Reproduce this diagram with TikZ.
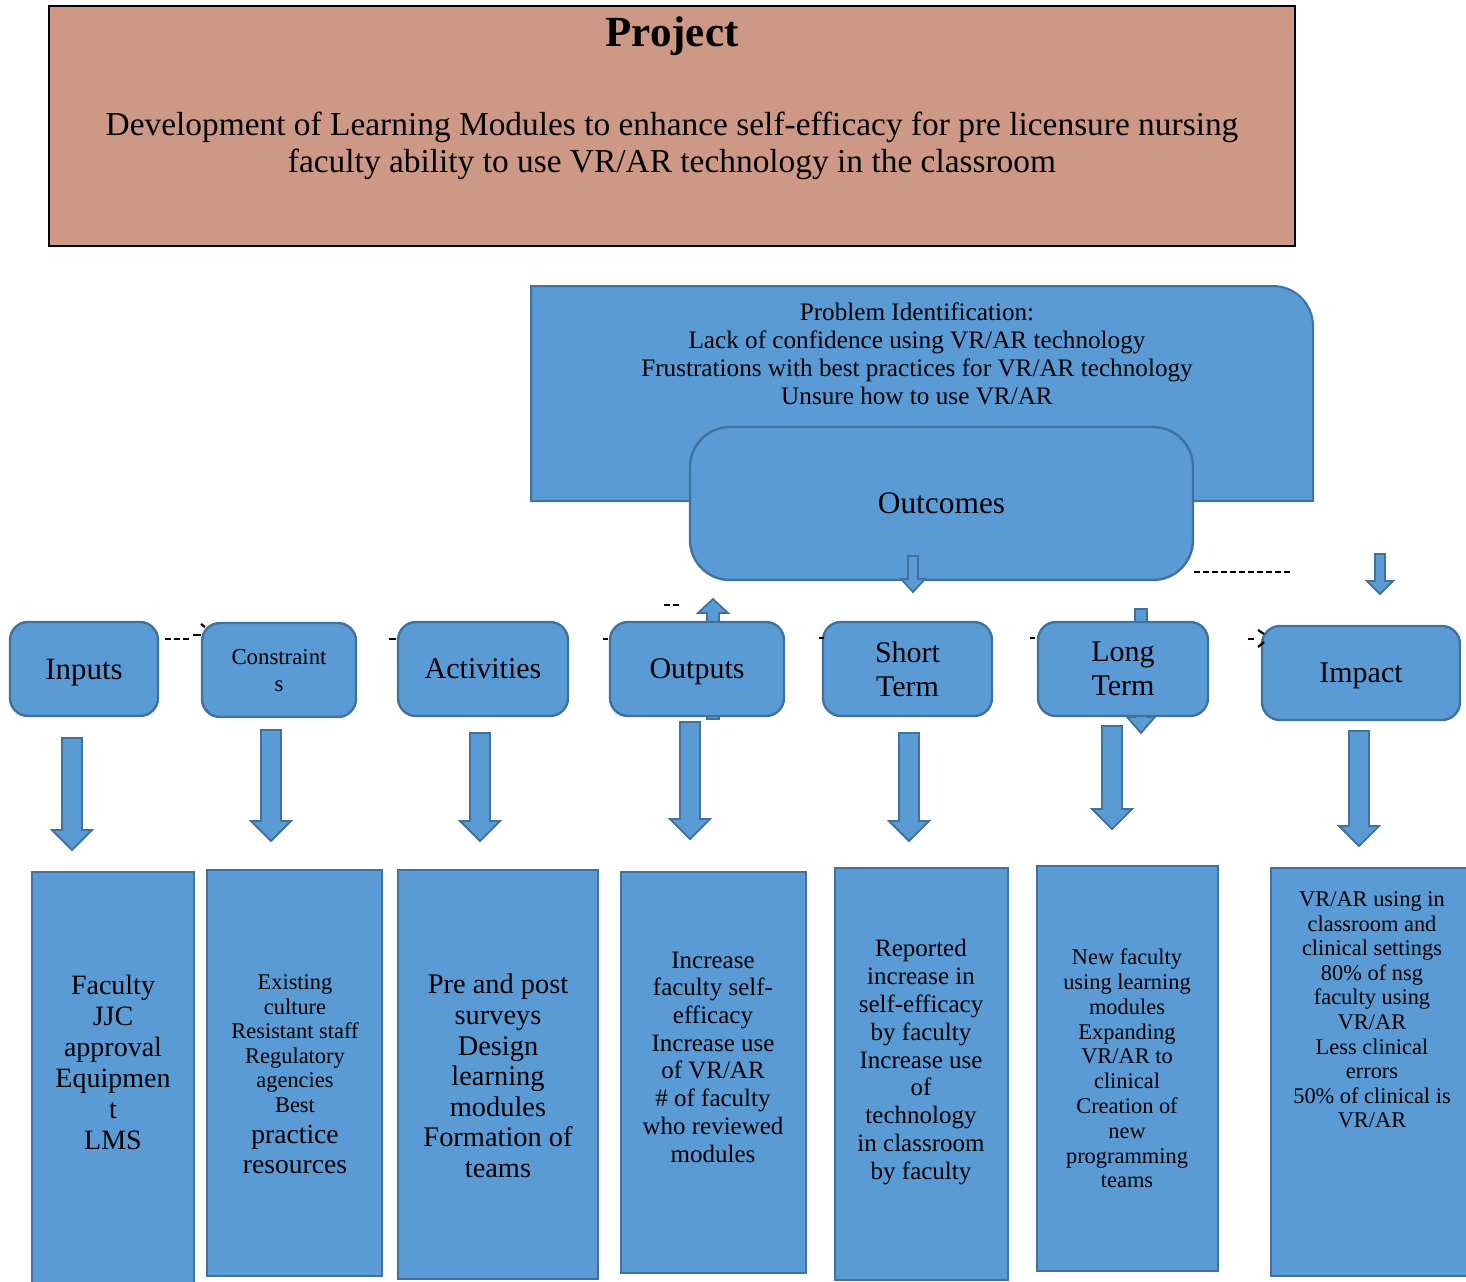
\documentclass[tikz,border=0pt]{standalone}
\usepackage{fontspec}
\setmainfont{Liberation Serif}
\usetikzlibrary{positioning}

\definecolor{boxblue}{RGB}{91,155,213}
\definecolor{edgeblue}{RGB}{65,113,156}
\definecolor{projrose}{RGB}{205,152,134}

% block arrows: x, top, tip, half shaft, half head, head length
\newcommand{\downblock}[6]{%
  \filldraw[blockarrow] (#1-#4,#2) -- (#1+#4,#2) -- (#1+#4,#3-#6) -- (#1+#5,#3-#6)
    -- (#1,#3) -- (#1-#5,#3-#6) -- (#1-#4,#3-#6) -- cycle;}
\newcommand{\upblock}[6]{%
  \filldraw[blockarrow] (#1-#4,#2) -- (#1+#4,#2) -- (#1+#4,#3+#6) -- (#1+#5,#3+#6)
    -- (#1,#3) -- (#1-#5,#3+#6) -- (#1-#4,#3+#6) -- cycle;}

\begin{document}
\begin{tikzpicture}[x=0.5pt, y=-0.5pt,
    hdr/.style={draw=edgeblue, fill=boxblue, line width=1.2pt, rounded corners=9pt,
      minimum height=47pt, align=center, inner sep=0pt, text depth=0pt},
    body/.style={draw=edgeblue, fill=boxblue, line width=1pt, inner sep=0pt},
    bodytext/.style={align=center, inner sep=0pt},
    blockarrow/.style={draw=edgeblue, fill=boxblue, line width=0.9pt, line join=miter},
    frag/.style={black, line width=1.1pt},
    dashline/.style={black, line width=1.4pt, dash pattern=on 3pt off 1.5pt}]
\useasboundingbox (0,0) rectangle (1466,1281);

% Project
\node[draw=black, fill=projrose, line width=0.8pt, minimum width=623pt, minimum height=120pt,
  inner sep=0pt] (proj) at (672,126) {};
\node[font=\fontsize{21.5}{24}\selectfont\bfseries] (projtitle) at (672,36) {Project};
\node[align=center, font=\fontsize{16.7}{18.3}\selectfont] (projtext) at (672,146)
  {Development of Learning Modules to enhance self-efficacy for pre licensure nursing\\
   faculty ability to use VR/AR technology in the classroom};

% Problem identification
\draw[draw=edgeblue, fill=boxblue, line width=1pt] (531,501) -- (531,286) -- (1200,286)
  [rounded corners=20pt] -- (1313,286) -- (1313,420) [sharp corners] -- (1313,501) -- cycle;
\node[align=center, font=\fontsize{12.6}{14}\selectfont] (probid) at (917,354)
  {Problem Identification:\\ Lack of confidence using VR/AR technology\\
   Frustrations with best practices for VR/AR technology\\ Unsure how to use VR/AR};

% Outcomes
\node[hdr, rounded corners=20pt, minimum width=251.5pt, minimum height=76.5pt,
  font=\fontsize{15.7}{18}\selectfont] (outc) at (941.5,503.5) {Outcomes};
\downblock{913}{556}{592}{5}{12}{13}
\downblock{1380}{554}{594}{5}{13}{13}
\coordinate (dashend) at (1292,572);
\draw[dashline] (outc.east |- dashend) -- (dashend);

% arrows behind the headers
\upblock{713}{719}{599}{6}{15}{14}
\downblock{1141}{609}{733}{6}{14}{16}

% Headers
\node[hdr, minimum width=74pt, font=\fontsize{15.5}{17}\selectfont] (inputs) at (84,669) {Inputs};
\node[hdr, minimum width=77pt, font=\fontsize{11.4}{13.5}\selectfont] (constr) at (279,670) {Constraint\\s};
\node[hdr, minimum width=85pt, font=\fontsize{15}{17}\selectfont] (activ) at (483,669) {Activities};
\node[hdr, minimum width=87pt, font=\fontsize{15}{17}\selectfont] (outp) at (697,669) {Outputs};
\node[hdr, minimum width=84.5pt, font=\fontsize{15}{17}\selectfont] (short) at (907.5,669) {Short\\Term};
\node[hdr, minimum width=85pt, font=\fontsize{15}{17}\selectfont] (long) at (1123,669) {Long\\Term};
\node[hdr, minimum width=99pt, font=\fontsize{15}{17}\selectfont] (impact) at (1361,673) {Impact};

% dash fragments between headers
\draw[frag, dash pattern=on 3pt off 1.5pt] (165,639) -- (190,639);
\draw[frag, line width=1.4pt] (193,635) -- (201,635);
\draw[frag] (201,624) -- (205,627);
\draw[frag] (389,639) -- (396,639);
\draw[frag] (603,639) -- (608,639);
\draw[frag, dash pattern=on 3pt off 1.5pt] (664,605) -- (679,605);
\draw[frag] (819,638) -- (824,638);
\draw[frag] (1030,638) -- (1035,638);
\draw[frag] (1248,639) -- (1254,639);
\draw[frag] (1258,630) -- (1264,634);
\draw[frag] (1258,647) -- (1264,642);

% Arrows down
\downblock{72}{738}{850}{10}{20}{20}
\downblock{271}{730}{841}{10}{20}{20}
\downblock{480}{733}{841}{10}{20}{20}
\downblock{690}{722}{839}{10}{20}{20}
\downblock{909}{733}{841}{10}{20}{20}
\downblock{1112}{726}{829}{10}{20}{20}
\downblock{1359}{731}{846}{10}{20}{20}

% Bodies
\node[body, minimum width=81pt, minimum height=214pt] (b-inputs) at (113,1086) {};
\node[bodytext, font=\fontsize{14}{15.5}\selectfont] (t-inputs) at (113,1062)
  {Faculty\\JJC\\approval\\Equipmen\\t\\LMS};

\node[body, minimum width=87.5pt, minimum height=203pt] (b-constr) at (294.5,1073) {};
\node[bodytext, font=\fontsize{11.2}{12.25}\selectfont] (t-constr) at (295,1043.5)
  {Existing\\culture\\Resistant staff\\Regulatory\\agencies\\Best};
\node[bodytext, font=\fontsize{13.8}{15}\selectfont] (t-constr2) at (295,1149)
  {practice\\resources};

\node[body, minimum width=100pt, minimum height=204.5pt] (b-activ) at (498,1074.5) {};
\node[bodytext, font=\fontsize{14.2}{15.3}\selectfont] (t-activ) at (498,1076)
  {Pre and post\\surveys\\Design\\learning\\modules\\Formation of\\teams};

\node[body, minimum width=92.5pt, minimum height=200.5pt] (b-outp) at (713.5,1072.5) {};
\node[bodytext, font=\fontsize{12.5}{13.85}\selectfont] (t-outp) at (713,1057)
  {Increase\\faculty self-\\efficacy\\Increase use\\of VR/AR\\\# of faculty\\who reviewed\\modules};

\node[body, minimum width=86.5pt, minimum height=206pt] (b-short) at (921.5,1074) {};
\node[bodytext, font=\fontsize{12.5}{13.9}\selectfont] (t-short) at (921,1062)
  {Reported\\increase in\\self-efficacy\\by faculty\\Increase use\\of\\technology\\in classroom\\by faculty};

\node[body, minimum width=90.5pt, minimum height=202.5pt] (b-long) at (1127.5,1068.5) {};
\node[bodytext, font=\fontsize{11.2}{12.4}\selectfont] (t-long) at (1127,1068.5)
  {New faculty\\using learning\\modules\\Expanding\\VR/AR to\\clinical\\Creation of\\new\\programming\\teams};

\node[body, minimum width=104.5pt, minimum height=204pt] (b-impact) at (1375.5,1072) {};
\node[bodytext, font=\fontsize{11.2}{12.3}\selectfont] (t-impact) at (1372,1010)
  {VR/AR using in\\classroom and\\clinical settings\\80\% of nsg\\faculty using\\VR/AR\\Less clinical\\errors\\50\% of clinical is\\VR/AR};

\end{tikzpicture}
\end{document}
